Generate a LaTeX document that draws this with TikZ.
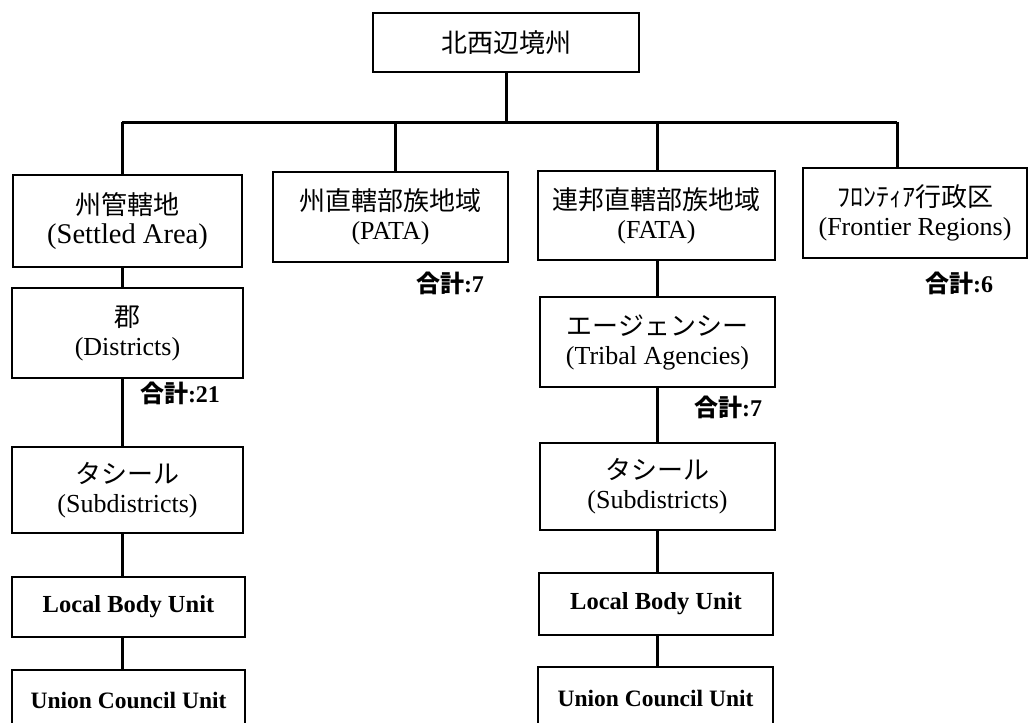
\documentclass[tikz,border=0pt]{standalone}
\usepackage{fontspec}
\setmainfont{Liberation Serif}
\newfontfamily\jp{Noto Sans CJK JP}
\tikzset{
  box/.style={draw, line width=2.5pt, align=center, inner sep=0pt, font=\fontsize{26}{29}\selectfont},
  unitbox/.style={box, font=\fontsize{24.5}{29}\selectfont\bfseries},
  conn/.style={line width=3pt},
  total/.style={inner sep=0pt, font=\fontsize{24}{27}\selectfont\bfseries}
}
\begin{document}
\begin{tikzpicture}[x=1pt, y=-1pt]
\useasboundingbox (0,0) rectangle (1029,723);
% top
\node[box, minimum width=266pt, minimum height=59pt] (top) at (506,42.5) {\jp 北西辺境州};
% level 1
\node[box, minimum width=229pt, minimum height=92pt] (b1) at (127.5,221) {{\jp 州管轄地}\\{\fontsize{28.5}{29}\selectfont (Settled Area)}};
\node[box, minimum width=235pt, minimum height=90pt] (b2) at (390.5,217) {{\jp 州直轄部族地域}\\(PATA)};
\node[box, minimum width=237pt, minimum height=89pt] (b3) at (656.5,215.5) {{\jp 連邦直轄部族地域}\\(FATA)};
\node[box, minimum width=224pt, minimum height=90pt] (b4) at (915,213) {{\jp ﾌﾛﾝﾃｨｱ行政区}\\(Frontier Regions)};
% left column
\node[box, minimum width=231pt, minimum height=90pt] (d1) at (127.5,333) {{\jp 郡}\\(Districts)};
\node[box, minimum width=231pt, minimum height=86pt] (s1) at (127.5,490) {{\jp タシール}\\(Subdistricts)};
\node[unitbox, minimum width=233pt, minimum height=60pt] (l1) at (128.5,607) {Local Body Unit};
\node[unitbox, minimum width=233pt, minimum height=60pt, font=\fontsize{23.5}{29}\selectfont\bfseries] (u1) at (128.5,700) {Union Council Unit};
% right column
\node[box, minimum width=235pt, minimum height=90pt] (a2) at (657.5,342) {{\jp エージェンシー}\\(Tribal Agencies)};
\node[box, minimum width=235pt, minimum height=87pt] (s2) at (657.5,486.5) {{\jp タシール}\\(Subdistricts)};
\node[unitbox, minimum width=234pt, minimum height=62pt] (l2) at (656,604) {Local Body Unit};
\node[unitbox, minimum width=235pt, minimum height=63pt, font=\fontsize{23.5}{29}\selectfont\bfseries] (u2) at (655.5,698.5) {Union Council Unit};
% totals
\node[total] (t2) at (450,283) {{\jp 合計}:7};
\node[total] (t4) at (959,283) {{\jp 合計}:6};
\node[total] (t1) at (180,393) {{\jp 合計}:21};
\node[total] (t3) at (728,407) {{\jp 合計}:7};
% connectors
\coordinate (jt) at (506,122);
\coordinate (hl) at (122,122);
\coordinate (j2) at (395,122);
\coordinate (j3) at (657,122);
\coordinate (hr) at (897,122);
\draw[conn] (top.south) -- (jt);
\draw[conn] (hl) -- (hr);
\draw[conn] (hl) -- (hl |- b1.north);
\draw[conn] (j2) -- (j2 |- b2.north);
\draw[conn] (j3) -- (j3 |- b3.north);
\draw[conn] (hr) -- (hr |- b4.north);
\draw[conn] (b1.south -| hl) -- (d1.north -| hl);
\draw[conn] (d1.south -| hl) -- (s1.north -| hl);
\draw[conn] (s1.south -| hl) -- (l1.north -| hl);
\draw[conn] (l1.south -| hl) -- (u1.north -| hl);
\draw[conn] (b3.south -| j3) -- (a2.north -| j3);
\draw[conn] (a2.south -| j3) -- (s2.north -| j3);
\draw[conn] (s2.south -| j3) -- (l2.north -| j3);
\draw[conn] (l2.south -| j3) -- (u2.north -| j3);
\end{tikzpicture}
\end{document}
